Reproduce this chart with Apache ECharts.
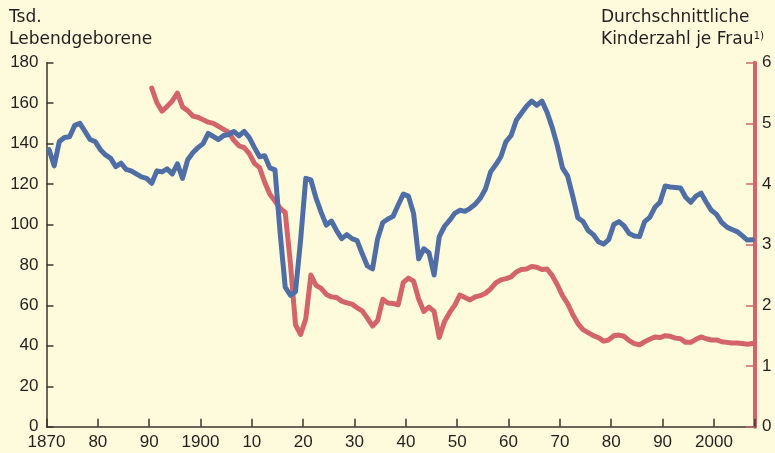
<!DOCTYPE html>
<html><head><meta charset="utf-8">
<script src="https://cdn.jsdelivr.net/npm/echarts@6/dist/echarts.min.js"></script>
<style>html,body{margin:0;padding:0;background:#fdfbdb}#c{width:775px;height:453px}</style>
</head><body><div id="c"></div>
<script>
// Lebendgeborene in Tsd., 1870-2007
const birthsStartYear = 1870;
const births = [
  137, 129, 141, 143, 143.4, 149, 150, 146, 142, 141,
  137, 134.4, 132.7, 128.6, 130.3, 127.3, 126.5, 125, 123.5, 122.8,
  120.4, 126.5, 126, 127.5, 125, 130, 122.8, 132, 135.5, 138,
  140, 145, 143.5, 142, 144, 144.5, 146, 143.8, 146, 143,
  138, 133.5, 134, 128, 127, 96, 69, 65, 66.8, 92.4,
  122.8, 122, 113, 106, 99.7, 101.7, 97, 93, 95, 93,
  92, 85.5, 79.5, 78, 93, 101, 102.7, 104, 109.6, 115,
  114, 105.5, 83, 88, 86, 75, 94, 99, 102, 105.5,
  107, 106.5, 108, 110, 113, 117.5, 126, 129.5, 133.5, 141,
  144, 151.5, 155, 158.5, 161, 159, 161, 155.5, 148, 139,
  128, 124, 114, 103.3, 101.5, 97, 95, 91.5, 90.3, 92.5,
  100, 101.4, 99.3, 95.5, 94.3, 94, 101.4, 103.5, 108.5, 111,
  119, 118.5, 118.3, 118, 113.5, 111, 114, 115.5, 111, 107,
  105, 101, 98.8, 97.5, 96.5, 94.5, 92.3, 92.5
];
// Durchschnittliche Kinderzahl je Frau, 1890-2007
const fertilityStartYear = 1890;
const fertility = [
  5.58, 5.34, 5.2, 5.28, 5.37, 5.5, 5.27, 5.21, 5.12, 5.1,
  5.06, 5.02, 5.0, 4.95, 4.9, 4.85, 4.72, 4.63, 4.6, 4.5,
  4.34, 4.27, 4.03, 3.83, 3.72, 3.6, 3.53, 2.7, 1.68, 1.52,
  1.78, 2.5, 2.33, 2.28, 2.18, 2.14, 2.13, 2.07, 2.04, 2.02,
  1.96, 1.91, 1.79, 1.66, 1.75, 2.1, 2.04, 2.03, 2.01, 2.38,
  2.45, 2.4, 2.1, 1.9, 1.97, 1.9, 1.47, 1.73, 1.88, 2.0,
  2.17, 2.13, 2.09, 2.14, 2.16, 2.2, 2.27, 2.37, 2.42, 2.44,
  2.47, 2.55, 2.59, 2.6, 2.64, 2.63, 2.59, 2.6, 2.49, 2.34,
  2.16, 2.03, 1.85, 1.7, 1.6, 1.55, 1.5, 1.47, 1.41, 1.43,
  1.5, 1.51, 1.49, 1.42, 1.37, 1.35, 1.4, 1.44, 1.48, 1.47,
  1.5, 1.49, 1.46, 1.45, 1.39, 1.39, 1.44, 1.48, 1.45, 1.43,
  1.43, 1.4, 1.39, 1.38, 1.38, 1.37, 1.36, 1.37
];
const xTickLabels = ['1870','80','90','1900','10','20','30','40','50','60','70','80','90','2000'];
const leftTitle = ['Tsd.', 'Lebendgeborene'];
const rightTitle = ['Durchschnittliche', 'Kinderzahl je Frau'];
const footnoteMark = '1)';

const BLUE = '#4f6ea6', RED = '#d4646c', INK = '#231f20', AXIS = '#3a3633';
const NUM_FONT = '"Liberation Sans", Arial, sans-serif';
const TITLE_FONT = '"DejaVu Sans", sans-serif';

// annual values are plotted at mid-year
const birthsData = births.map((v, i) => [birthsStartYear + i + 0.5, v]);
const fertilityData = fertility.map((v, i) => [fertilityStartYear + i + 0.5, v]);

const chart = echarts.init(document.getElementById('c'), null, {renderer: 'canvas'});
chart.setOption({
  backgroundColor: '#fdfbdb',
  animation: false,
  grid: {left: 46.5, right: 20, top: 62.7, bottom: 26.3},
  xAxis: {
    type: 'value', min: 1870, max: 2008, interval: 10,
    axisLine: {lineStyle: {color: AXIS, width: 1.5}},
    axisTick: {inside: true, length: 8, lineStyle: {color: AXIS, width: 1.5}},
    splitLine: {show: false},
    axisLabel: {
      margin: 7, color: INK, fontSize: 17, fontFamily: NUM_FONT,
      formatter: v => { const k = Math.round((v - 1870) / 10); return (v - 1870) % 10 === 0 && xTickLabels[k] ? xTickLabels[k] : ''; }
    }
  },
  yAxis: [{
    type: 'value', min: 0, max: 180, interval: 20, position: 'left',
    axisLine: {show: true, lineStyle: {color: AXIS, width: 1.5}},
    axisTick: {show: true, inside: true, length: 7, lineStyle: {color: AXIS, width: 1.5}},
    splitLine: {show: false},
    axisLabel: {margin: 8, color: INK, fontSize: 17, fontFamily: NUM_FONT}
  }, {
    type: 'value', min: 0, max: 6, interval: 1, position: 'right',
    axisLine: {show: true, lineStyle: {color: RED, width: 4}},
    axisTick: {show: true, inside: true, length: 9, lineStyle: {color: RED, width: 1.5}},
    splitLine: {show: false},
    axisLabel: {margin: 7, color: INK, fontSize: 17, fontFamily: NUM_FONT}
  }],
  visualMap: {
    type: 'piecewise', show: false, seriesIndex: 1, dimension: 0,
    pieces: [{gt: 1882.4, lte: 1884.6, color: '#8093c3'}],
    outOfRange: {color: BLUE}
  },
  series: [{
    type: 'line', yAxisIndex: 1, data: fertilityData, showSymbol: false, symbol: 'none',
    lineStyle: {color: RED, width: 5, cap: 'round', join: 'round'}, itemStyle: {color: RED}, z: 3
  }, {
    type: 'line', yAxisIndex: 0, data: birthsData, showSymbol: false, symbol: 'none',
    lineStyle: {color: BLUE, width: 5, cap: 'round', join: 'round'}, itemStyle: {color: BLUE}, z: 4
  }],
  graphic: [
    {type: 'text', x: 9, y: 18, style: {text: leftTitle[0], fontSize: 17, fontFamily: TITLE_FONT, fill: INK, verticalAlign: 'middle'}},
    {type: 'text', x: 9, y: 39.5, style: {text: leftTitle[1], fontSize: 17, fontFamily: TITLE_FONT, fill: INK, verticalAlign: 'middle'}},
    {type: 'text', x: 601, y: 18, style: {text: rightTitle[0], fontSize: 17, fontFamily: TITLE_FONT, fill: INK, verticalAlign: 'middle'}},
    {type: 'text', x: 601, y: 39.5, style: {
      text: rightTitle[1] + '{sup|' + footnoteMark + '}', fontSize: 17, fontFamily: TITLE_FONT, fill: INK, verticalAlign: 'middle',
      rich: {sup: {fontSize: 10.5, fontFamily: TITLE_FONT, fill: INK, verticalAlign: 'top', lineHeight: 12}}
    }}
  ]
});
</script></body></html>
